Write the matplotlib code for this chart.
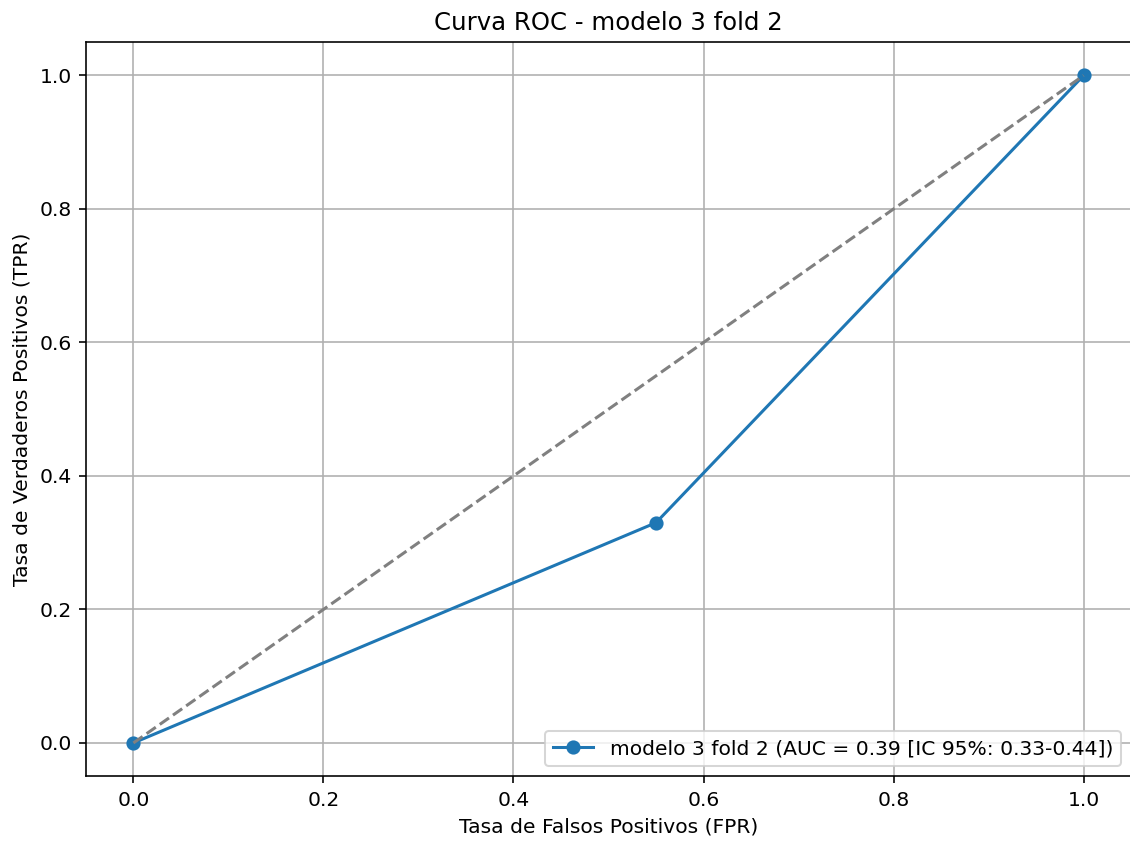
import numpy as np
import matplotlib
matplotlib.use("Agg")
import matplotlib.pyplot as plt

fpr = [0.0, 0.55, 1.0]
tpr = [0.0, 0.33, 1.0]
auc_label = "modelo 3 fold 2 (AUC = 0.39 [IC 95%: 0.33-0.44])"

dpi = 146
fig, ax = plt.subplots(figsize=(1130 / dpi, 842 / dpi), dpi=dpi)
ax.plot(fpr, tpr, marker="o", label=auc_label)
ax.plot([0, 1], [0, 1], linestyle="--", color="gray")

ax.set_title("Curva ROC - modelo 3 fold 2")
ax.set_xlabel("Tasa de Falsos Positivos (FPR)")
ax.set_ylabel("Tasa de Verdaderos Positivos (TPR)")
ax.legend(loc="lower right")
ax.grid(True)

# the reference image is cropped just inside the right spine
fig.subplots_adjust(left=0.076, right=1.001, top=0.950, bottom=0.078)
fig.savefig("out.png", dpi=dpi)
